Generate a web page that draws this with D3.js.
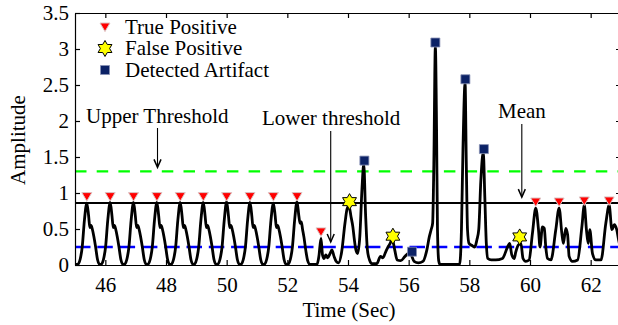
<!DOCTYPE html>
<html>
<head>
<meta charset="utf-8">
<script src="https://cdn.jsdelivr.net/npm/d3@7"></script>
<style>
  html, body { margin: 0; padding: 0; background: #fff; }
  svg { display: block; font-family: "Liberation Serif", "Times New Roman", serif; }
  .axis path, .axis line { stroke: #000; stroke-width: 1.2; }
  .axis text { font-size: 21px; fill: #000; font-family: "Liberation Serif", serif; }
</style>
</head>
<body>
<div id="chart"></div>
<script>
// Signal (Zeit in s, Amplitude)
const signal = [
  [45.00,0.01],[45.09,0.01],[45.17,0.08],[45.24,0.26],[45.31,0.62],[45.39,0.86],[45.45,0.68],[45.49,0.52],[45.53,0.55],[45.57,0.50],[45.62,0.40],[45.68,0.25],[45.74,0.08],[45.81,0.01],
  [45.86,0.01],[45.94,0.08],[46.01,0.26],[46.08,0.62],[46.16,0.87],[46.22,0.68],[46.26,0.52],[46.30,0.55],[46.34,0.50],[46.39,0.40],[46.45,0.25],[46.51,0.08],[46.58,0.01],
  [46.63,0.01],[46.71,0.08],[46.78,0.26],[46.85,0.62],[46.93,0.87],[46.99,0.68],[47.03,0.52],[47.07,0.55],[47.11,0.50],[47.16,0.40],[47.22,0.25],[47.28,0.08],[47.35,0.01],
  [47.40,0.01],[47.48,0.08],[47.55,0.26],[47.62,0.62],[47.70,0.87],[47.76,0.68],[47.80,0.52],[47.84,0.55],[47.88,0.50],[47.93,0.40],[47.99,0.25],[48.05,0.08],[48.12,0.01],
  [48.17,0.01],[48.25,0.08],[48.32,0.26],[48.39,0.62],[48.47,0.87],[48.53,0.68],[48.57,0.52],[48.61,0.55],[48.65,0.50],[48.70,0.40],[48.76,0.25],[48.82,0.08],[48.89,0.01],
  [48.93,0.01],[49.01,0.08],[49.08,0.26],[49.15,0.62],[49.23,0.87],[49.29,0.68],[49.33,0.52],[49.37,0.55],[49.41,0.50],[49.46,0.40],[49.52,0.25],[49.58,0.08],[49.65,0.01],
  [49.70,0.01],[49.78,0.08],[49.85,0.26],[49.92,0.62],[50.00,0.88],[50.06,0.68],[50.10,0.52],[50.14,0.55],[50.18,0.50],[50.23,0.40],[50.29,0.25],[50.35,0.08],[50.42,0.01],
  [50.47,0.01],[50.55,0.08],[50.62,0.26],[50.69,0.62],[50.77,0.87],[50.83,0.68],[50.87,0.52],[50.91,0.55],[50.95,0.50],[51.00,0.40],[51.06,0.25],[51.12,0.08],[51.19,0.01],
  [51.24,0.01],[51.32,0.08],[51.39,0.26],[51.46,0.62],[51.54,0.86],[51.60,0.68],[51.64,0.52],[51.68,0.55],[51.72,0.50],[51.77,0.40],[51.83,0.25],[51.89,0.08],[51.96,0.01],
  [52.02,0.01],[52.10,0.08],[52.17,0.26],[52.24,0.62],[52.32,0.88],[52.38,0.68],[52.42,0.58],[52.46,0.60],[52.50,0.50],[52.55,0.38],[52.61,0.20],[52.67,0.06],[52.74,0.01],
  [52.98,0.01],[53.04,0.12],[53.11,0.37],[53.16,0.14],[53.21,0.09],[53.27,0.14],[53.33,0.10],[53.41,0.16],[53.47,0.21],[53.54,0.12],[53.61,0.05],[53.69,0.03],
  [53.79,0.18],[53.90,0.58],[53.97,0.78],[54.03,0.82],[54.10,0.67],[54.16,0.53],[54.21,0.35],[54.26,0.21],[54.32,0.16],
  [54.39,0.40],[54.46,1.05],[54.52,1.40],[54.58,0.70],[54.64,0.21],[54.71,0.07],[54.79,0.02],[54.95,0.02],
  [55.07,0.12],[55.15,0.10],[55.24,0.18],[55.32,0.25],[55.39,0.30],[55.46,0.36],[55.54,0.21],[55.62,0.07],[55.74,0.06],
  [55.88,0.12],[56.00,0.16],[56.08,0.14],[56.18,0.05],[56.32,0.03],[56.47,0.05],[56.60,0.21],[56.68,0.39],[56.74,0.49],[56.79,0.58],
  [56.83,1.40],[56.88,3.04],[56.92,1.87],[56.95,0.49],[56.99,0.06],[57.03,0.01],[57.68,0.01],
  [57.74,0.49],[57.79,1.60],[57.86,2.53],[57.90,1.41],[57.94,0.49],[57.99,0.30],[58.09,0.27],[58.18,0.25],[58.25,0.35],[58.31,0.49],
  [58.38,1.18],[58.46,1.57],[58.51,0.95],[58.56,0.30],[58.61,0.09],[58.72,0.07],[58.87,0.07],[59.09,0.09],
  [59.26,0.25],[59.33,0.30],[59.40,0.14],[59.48,0.09],[59.53,0.18],[59.62,0.28],[59.70,0.30],[59.77,0.09],[59.86,0.05],[59.97,0.07],
  [60.08,0.44],[60.19,0.79],[60.28,0.49],[60.33,0.25],[60.41,0.53],[60.47,0.51],[60.52,0.25],[60.58,0.09],[60.69,0.07],
  [60.85,0.49],[60.96,0.79],[61.05,0.44],[61.10,0.30],[61.18,0.51],[61.24,0.42],[61.29,0.12],[61.40,0.05],[61.57,0.07],
  [61.71,0.53],[61.79,0.83],[61.86,0.49],[61.92,0.30],[61.97,0.49],[62.06,0.16],[62.17,0.07],[62.34,0.07],
  [62.50,0.58],[62.61,0.83],[62.70,0.49],[62.78,0.56],[62.86,0.49],[62.93,0.33],[63.00,0.22]
];

// Marker
const truePosT = [45.39, 46.16, 46.93, 47.70, 48.47, 49.23, 50.00, 50.77, 51.54, 52.32, 53.11, 60.19, 60.96, 61.79, 62.61];
const truePosY = [0.95, 0.95, 0.95, 0.95, 0.95, 0.95, 0.95, 0.95, 0.95, 0.95, 0.46, 0.875, 0.875, 0.89, 0.89];
const falsePosT = [54.05, 55.48, 59.66];
const falsePosY = [0.88, 0.40, 0.39];
const artifactT = [54.54, 56.11, 56.88, 57.87, 58.48];
const artifactY = [1.45, 0.185, 3.09, 2.58, 1.61];

// Schwellen
const upperThreshold = 1.3;
const meanLevel = 0.86;
const lowerThreshold = 0.25;

const xTicks = [46, 48, 50, 52, 54, 56, 58, 60, 62];
const yTicks = [0, 0.5, 1, 1.5, 2, 2.5, 3, 3.5];
const legendLabels = ["True Positive", "False Positive", "Detected Artifact"];

const width = 618, height = 325;
const margin = { left: 75, top: 13, right: -3, bottom: 60 };
const fontSize = 21;

const x = d3.scaleLinear().domain([45, 63]).range([margin.left, width - margin.right]);
const y = d3.scaleLinear().domain([0, 3.5]).range([height - margin.bottom, margin.top]);

const svg = d3.select("#chart").append("svg")
  .attr("width", width).attr("height", height);

svg.append("defs").append("clipPath").attr("id", "plotClip")
  .append("rect")
  .attr("x", x(45)).attr("y", y(3.5))
  .attr("width", x(63) - x(45)).attr("height", y(0) - y(3.5));

const plot = svg.append("g").attr("clip-path", "url(#plotClip)");

// Schwellenlinien
plot.append("line")
  .attr("x1", x(45)).attr("x2", x(63))
  .attr("y1", y(upperThreshold)).attr("y2", y(upperThreshold))
  .attr("stroke", "#00ff00").attr("stroke-width", 2.4)
  .attr("stroke-dasharray", "11.5,10.2");

plot.append("line")
  .attr("x1", x(45)).attr("x2", x(63))
  .attr("y1", y(lowerThreshold)).attr("y2", y(lowerThreshold))
  .attr("stroke", "#0000ff").attr("stroke-width", 2.6)
  .attr("stroke-dasharray", "15.5,6.8");

plot.append("line")
  .attr("x1", x(45)).attr("x2", x(63))
  .attr("y1", y(meanLevel)).attr("y2", y(meanLevel))
  .attr("stroke", "#000").attr("stroke-width", 2);

// Signal
const line = d3.line()
  .x(d => x(d[0]))
  .y(d => y(d[1]))
  .curve(d3.curveMonotoneX);

plot.append("path")
  .datum(signal)
  .attr("d", line)
  .attr("fill", "none")
  .attr("stroke", "#000")
  .attr("stroke-width", 2.8)
  .attr("stroke-linejoin", "round");

// Achsen (Ticks nach innen, MATLAB-Stil)
svg.append("g").attr("class", "axis")
  .attr("transform", `translate(0,${y(0)})`)
  .call(d3.axisBottom(x).tickValues(xTicks).tickSizeInner(-5).tickSizeOuter(0).tickPadding(12));

svg.append("g").attr("class", "axis")
  .attr("transform", `translate(0,${y(3.5)})`)
  .call(d3.axisTop(x).tickValues(xTicks).tickSizeInner(-5).tickSizeOuter(0).tickFormat(""));

svg.append("g").attr("class", "axis")
  .attr("transform", `translate(${x(45)},0)`)
  .call(d3.axisLeft(y).tickValues(yTicks).tickSizeInner(-5).tickSizeOuter(0).tickPadding(6)
    .tickFormat(d => d3.format("~g")(d)));

svg.append("g").attr("class", "axis")
  .attr("transform", `translate(${x(63)},0)`)
  .call(d3.axisRight(y).tickValues(yTicks).tickSizeInner(-5).tickSizeOuter(0).tickFormat(""));

// Achsentitel
svg.append("text")
  .attr("x", 349).attr("y", 317)
  .attr("text-anchor", "middle")
  .attr("font-size", fontSize)
  .text("Time (Sec)");

svg.append("text")
  .attr("transform", "translate(25,140) rotate(-90)")
  .attr("text-anchor", "middle")
  .attr("font-size", fontSize)
  .text("Amplitude");

// Markerformen
const triDown = "M-5,-4L5,-4L0,4.5Z";
const hexagram = (() => {
  const R = 8, r = R / Math.sqrt(3);
  const pts = [];
  for (let i = 0; i < 12; i++) {
    const a = -Math.PI / 2 + i * Math.PI / 6;
    const rad = i % 2 === 0 ? R : r;
    pts.push([rad * Math.cos(a), rad * Math.sin(a)]);
  }
  return "M" + pts.map(p => p.join(",")).join("L") + "Z";
})();
const square = "M-4.5,-4.5H4.5V4.5H-4.5Z";

const drawTP = (sel) => sel.attr("d", triDown).attr("fill", "#ff0000")
  .attr("stroke", "#dcc4c4").attr("stroke-width", 1);
const drawFP = (sel) => sel.attr("d", hexagram).attr("fill", "#ffff00")
  .attr("stroke", "#000").attr("stroke-width", 1);
const drawArt = (sel) => sel.attr("d", square).attr("fill", "#0c2266")
  .attr("stroke", "#8890b4").attr("stroke-width", 0.8);

const markers = svg.append("g");
markers.selectAll(".tp").data(truePosT).join("path").attr("class", "tp")
  .attr("transform", (d, i) => `translate(${x(d)},${y(truePosY[i])})`).call(drawTP);
markers.selectAll(".fp").data(falsePosT).join("path").attr("class", "fp")
  .attr("transform", (d, i) => `translate(${x(d)},${y(falsePosY[i])})`).call(drawFP);
markers.selectAll(".art").data(artifactT).join("path").attr("class", "art")
  .attr("transform", (d, i) => `translate(${x(d)},${y(artifactY[i])})`).call(drawArt);

// Legende (ohne Rahmen)
const legend = svg.append("g").attr("transform", "translate(105,27)");
const drawers = [drawTP, drawFP, drawArt];
legendLabels.forEach((lab, i) => {
  const row = legend.append("g").attr("transform", `translate(0,${i * 21.5})`);
  row.append("path").call(drawers[i]);
  row.append("text").attr("x", 20).attr("y", 6.5)
    .attr("font-size", fontSize).text(lab);
});

// Beschriftungen mit Pfeilen
function arrow(xPos, y1, y2) {
  const g = svg.append("g").attr("stroke", "#000").attr("fill", "none").attr("stroke-width", 1.1);
  g.append("line").attr("x1", xPos).attr("x2", xPos).attr("y1", y1).attr("y2", y2);
  g.append("path").attr("d", `M${xPos - 3.5},${y2 - 8}L${xPos},${y2}L${xPos + 3.5},${y2 - 8}`)
    .attr("stroke-width", 1.5);
}

svg.append("text").attr("x", 86).attr("y", 123).attr("font-size", fontSize).text("Upper Threshold");
arrow(x(47.72), 128, y(upperThreshold) - 4);

svg.append("text").attr("x", 262).attr("y", 125).attr("font-size", fontSize).text("Lower threshold");
arrow(x(53.43), 131, y(lowerThreshold) - 5);

svg.append("text").attr("x", 498).attr("y", 118).attr("font-size", fontSize).text("Mean");
arrow(x(59.73), 124, y(meanLevel) - 6);
</script>
</body>
</html>
